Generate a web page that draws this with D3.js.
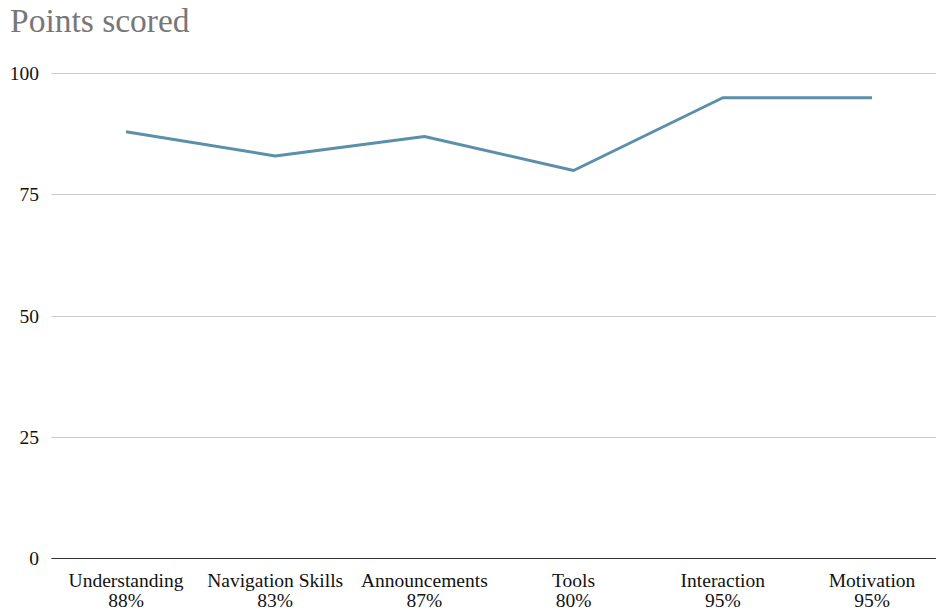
<!DOCTYPE html>
<html lang="en">
	<head>
		<meta charset="utf-8">
		<title>Points scored</title>
		<script src="https://d3js.org/d3.v7.min.js"></script>
		<style type="text/css">
			body { margin: 0; background: #fff; }
			svg text { font-family: "Liberation Serif", "DejaVu Serif", serif; }
		</style>
	</head>
	<body>
		<script type="text/javascript">
			//Data
			let categories = ["Understanding", "Navigation Skills", "Announcements", "Tools", "Interaction", "Motivation"];
			let scores = [88, 83, 87, 80, 95, 95];
			let yTicks = [0, 25, 50, 75, 100];

			//Width and height
			let w = 936;
			let h = 614;
			let padLeft = 51.4;
			let padTop = 73.5;
			let padBottom = 558.5;

			let svg = d3.select("body")
						.append("svg")
						.attr("width", w)
						.attr("height", h);

			//Scales
			let xScale = d3.scaleBand()
						.domain(categories)
						.range([padLeft, padLeft + 149.2 * categories.length]);
			let yScale = d3.scaleLinear()
						.domain([0, 100])
						.range([padBottom, padTop]);

			//Title
			svg.append("text")
				.attr("x", 10)
				.attr("y", 32)
				.attr("font-size", 33.5)
				.attr("fill", "#777")
				.text("Points scored");

			//Gridlines
			svg.append("g")
				.selectAll("line")
				.data(yTicks)
				.enter()
				.append("line")
				.attr("x1", padLeft)
				.attr("x2", w)
				.attr("y1", d => Math.floor(yScale(d)) + 0.5)
				.attr("y2", d => Math.floor(yScale(d)) + 0.5)
				.attr("stroke", d => d === 0 ? "#333" : "#ccc")
				.attr("stroke-width", d => d === 0 ? 1.2 : 1);

			//Y labels
			svg.append("g")
				.selectAll("text")
				.data(yTicks)
				.enter()
				.append("text")
				.attr("x", 39)
				.attr("y", d => yScale(d) + 6.5)
				.attr("text-anchor", "end")
				.attr("font-size", 19.5)
				.attr("fill", "#111")
				.text(d => d);

			//X labels
			let xl = svg.append("g")
				.selectAll("text")
				.data(categories)
				.enter()
				.append("text")
				.attr("text-anchor", "middle")
				.attr("font-size", 19.5)
				.attr("fill", "#111");
			xl.append("tspan")
				.attr("x", d => xScale(d) + xScale.bandwidth() / 2)
				.attr("y", 587)
				.text(d => d);
			xl.append("tspan")
				.attr("x", d => xScale(d) + xScale.bandwidth() / 2)
				.attr("y", 607)
				.text((d, i) => scores[i] + "%");

			//Line
			let line = d3.line()
				.x((d, i) => xScale(categories[i]) + xScale.bandwidth() / 2)
				.y(d => yScale(d));
			svg.append("path")
				.datum(scores)
				.attr("d", line)
				.attr("fill", "none")
				.attr("stroke", "#5b8fab")
				.attr("stroke-width", 3)
				.attr("stroke-linejoin", "round");
		</script>
	</body>
</html>
